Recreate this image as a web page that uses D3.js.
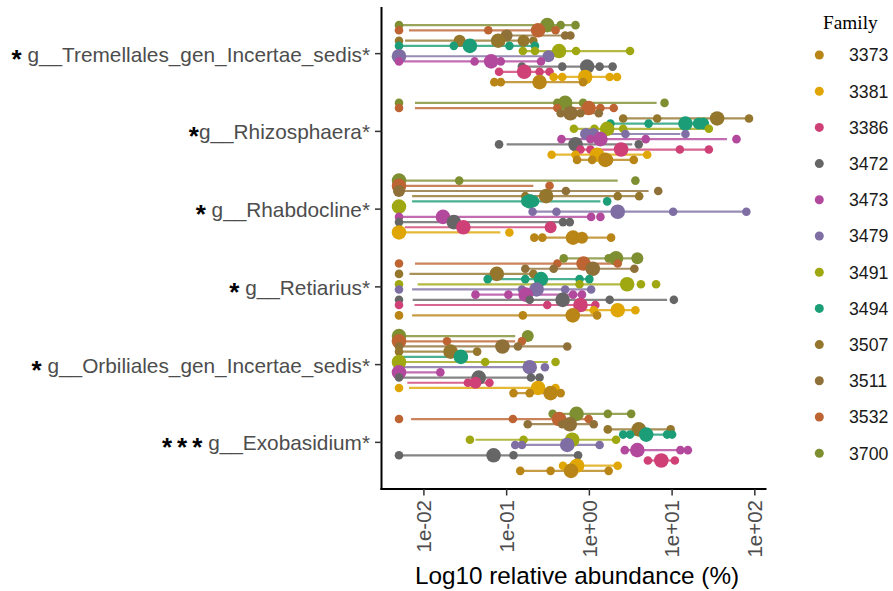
<!DOCTYPE html>
<html>
<head>
<meta charset="utf-8">
<script src="https://cdn.jsdelivr.net/npm/d3@7"></script>
<style>
  body { margin: 0; background: #fff; }
  text { white-space: pre; }
</style>
</head>
<body>
<svg id="chart" width="893" height="591"></svg>
<script>
// Families (legend order) and their colours (Dark2 ramp, 12 steps)
const families = ["3373", "3381", "3386", "3472", "3473", "3479", "3491", "3494", "3507", "3511", "3532", "3700"];
const familyColors = ["#B88516", "#E0A605", "#CF4076", "#666666", "#B3499D", "#7E6EA3",
                      "#A0A811", "#1B9E77", "#94762D", "#8F7038", "#BE6432", "#7E8F32"];

// Genera, top to bottom, with their significance marks
const genera = ["g__Tremellales_gen_Incertae_sedis", "g__Rhizosphaera", "g__Rhabdocline",
                "g__Retiarius", "g__Orbiliales_gen_Incertae_sedis", "g__Exobasidium"];
const significance = ["*", "*", "*", "*", "*", "***"];
const labelGap = [" ", "", " ", " ", " ", " "];

const xTicks = [0.01, 0.1, 1, 10, 100];
const xTickLabels = ["1e-02", "1e-01", "1e+00", "1e+01", "1e+02"];

// Per genus rows: [family, range low, range high, [[relative abundance %, weight], ...]]
const tremellales = [
  ["3700", 0.005, 0.68, [[0.005, 1], [0.31, 3], [0.45, 1], [0.68, 1]]],
  ["3532", 0.0066, 0.39, [[0.005, 1], [0.06, 1], [0.24, 3], [0.39, 1]]],
  ["3511", 0.10, 0.59, [[0.10, 2], [0.51, 1], [0.59, 1]]],
  ["3507", 0.0059, 0.21, [[0.005, 1], [0.027, 2], [0.079, 3], [0.16, 2], [0.21, 1]]],
  ["3494", 0.005, 0.22, [[0.005, 1], [0.023, 1], [0.036, 3], [0.108, 1], [0.22, 1]]],
  ["3491", 0.157, 3.1, [[0.157, 1], [0.22, 1], [0.43, 3], [0.69, 1], [3.1, 1]]],
  ["3479", 0.005, 0.34, [[0.005, 3], [0.32, 2]]],
  ["3473", 0.005, 0.26, [[0.005, 1], [0.041, 1], [0.065, 3], [0.085, 1], [0.26, 1]]],
  ["3472", 0.153, 1.91, [[0.153, 1], [0.47, 1], [0.94, 3], [1.33, 1], [1.91, 1]]],
  ["3386", 0.081, 0.33, [[0.081, 1], [0.163, 3], [0.25, 1], [0.33, 1]]],
  ["3381", 0.37, 2.16, [[0.37, 1], [0.47, 1], [0.89, 3], [1.76, 1], [2.16, 1]]],
  ["3373", 0.071, 0.84, [[0.071, 1], [0.085, 1], [0.25, 3], [0.84, 1]]]
];
const rhizosphaera = [
  ["3700", 0.0078, 6.5, [[0.005, 1], [0.41, 1], [0.51, 3], [0.84, 1], [8.1, 1]]],
  ["3532", 0.0078, 2.06, [[0.005, 1], [0.41, 1], [0.98, 3], [1.36, 1], [1.97, 1]]],
  ["3511", 0.45, 1.30, [[0.45, 1], [0.59, 3], [0.78, 1], [1.30, 1]]],
  ["3507", 2.56, 85, [[2.56, 1], [6.6, 1], [35, 3], [85, 1]]],
  ["3494", 1.8, 23.7, [[1.8, 1], [5.2, 1], [14.5, 3], [21, 2], [23.7, 2]]],
  ["3491", 0.65, 27.8, [[0.65, 1], [1.15, 1], [1.64, 3], [2.56, 1], [27.8, 1]]],
  ["3479", 0.91, 12.6, [[0.91, 2], [1.12, 2], [2.73, 1], [14.5, 1]]],
  ["3473", 0.46, 46, [[0.46, 1], [1.03, 1], [1.36, 3], [4.8, 1], [60, 1]]],
  ["3472", 0.10, 3.3, [[0.081, 1], [0.68, 3], [3.95, 1]]],
  ["3386", 0.78, 27.8, [[0.78, 1], [1.03, 1], [2.42, 3], [12.4, 1], [27.8, 1]]],
  ["3381", 0.35, 5.0, [[0.35, 1], [0.68, 1], [1.24, 3], [5.0, 1]]],
  ["3373", 0.71, 3.44, [[0.71, 1], [1.08, 1], [1.56, 3], [1.65, 2], [3.44, 1]]]
];
const rhabdocline = [
  ["3700", 0.005, 2.2, [[0.005, 3], [0.0267, 1], [3.6, 1]]],
  ["3532", 0.005, 0.21, [[0.005, 3], [0.33, 1]]],
  ["3511", 0.005, 5.2, [[0.005, 2], [0.52, 1], [6.8, 1]]],
  ["3507", 0.0072, 3.9, [[0.168, 1], [0.30, 3], [2.2, 1], [4.0, 1]]],
  ["3494", 0.0072, 1.36, [[0.176, 2], [0.19, 3], [0.21, 2], [1.64, 1]]],
  ["3491", null, null, [[0.005, 3]]],
  ["3479", 0.206, 79, [[0.206, 1], [0.40, 1], [2.2, 3], [10.3, 1], [79, 1]]],
  ["3473", 0.005, 1.05, [[0.005, 1], [0.017, 3], [1.05, 1], [1.36, 1]]],
  ["3472", 0.005, 0.54, [[0.005, 1], [0.023, 3], [0.48, 1], [0.58, 1]]],
  ["3386", 0.0059, 0.34, [[0.030, 3], [0.34, 2]]],
  ["3381", 0.005, 0.084, [[0.005, 3], [0.108, 1]]],
  ["3373", 0.216, 1.83, [[0.216, 1], [0.27, 1], [0.635, 3], [0.815, 2], [1.83, 1]]]
];
const retiarius = [
  ["3700", 0.49, 3.8, [[0.49, 1], [1.71, 1], [2.1, 3], [3.8, 2]]],
  ["3532", 0.0078, 2.37, [[0.005, 1], [0.41, 1], [0.85, 3], [2.2, 1]]],
  ["3511", 0.168, 3.5, [[0.168, 1], [0.37, 1], [1.1, 3], [3.5, 1]]],
  ["3507", 0.0067, 0.21, [[0.005, 1], [0.076, 3], [0.21, 1]]],
  ["3494", 0.059, 1.0, [[0.059, 1], [0.168, 1], [0.26, 3], [0.76, 1], [1.0, 1]]],
  ["3491", 0.0084, 2.73, [[0.005, 1], [0.76, 1], [2.86, 3], [4.2, 1], [6.4, 1]]],
  ["3479", 0.0072, 1.0, [[0.005, 1], [0.153, 1], [0.23, 3], [0.51, 1], [1.05, 1]]],
  ["3473", 0.042, 0.815, [[0.042, 1], [0.105, 1], [0.17, 3], [0.635, 1], [0.815, 1]]],
  ["3472", 0.0073, 8.7, [[0.005, 1], [0.19, 1], [0.475, 3], [1.76, 1], [10.5, 1]]],
  ["3386", 0.0077, 1.18, [[0.005, 1], [0.31, 1], [0.78, 3], [1.18, 1]]],
  ["3381", 0.78, 3.6, [[1.13, 1], [2.2, 3], [3.6, 1]]],
  ["3373", 0.0072, 1.24, [[0.005, 1], [0.157, 1], [0.63, 3], [1.24, 1]]]
];
const orbiliales = [
  ["3700", 0.005, 0.127, [[0.005, 3], [0.18, 2]]],
  ["3532", 0.005, 0.127, [[0.005, 3], [0.019, 1], [0.153, 1]]],
  ["3511", 0.005, 0.54, [[0.005, 1], [0.089, 3], [0.137, 1], [0.54, 1]]],
  ["3507", 0.005, 0.044, [[0.005, 1], [0.021, 3], [0.044, 1]]],
  ["3494", 0.005, 0.028, [[0.028, 3]]],
  ["3491", 0.005, 0.316, [[0.005, 3], [0.055, 1], [0.39, 1]]],
  ["3479", 0.005, 0.19, [[0.19, 3], [0.29, 1]]],
  ["3473", 0.005, 0.0158, [[0.005, 3], [0.0158, 1]]],
  ["3472", 0.005, 0.25, [[0.005, 1], [0.046, 3], [0.197, 1], [0.25, 1]]],
  ["3386", 0.0063, 0.062, [[0.034, 1], [0.042, 2], [0.062, 1]]],
  ["3381", 0.0066, 0.24, [[0.005, 1], [0.24, 3], [0.39, 1]]],
  ["3373", 0.121, 0.45, [[0.121, 1], [0.19, 1], [0.34, 3], [0.45, 1]]]
];
const exobasidium = [
  ["3700", 0.36, 3.2, [[0.36, 1], [0.70, 3], [1.67, 1], [3.2, 1]]],
  ["3532", 0.007, 0.98, [[0.005, 1], [0.119, 1], [0.43, 3], [0.98, 1]]],
  ["3511", 0.18, 1.13, [[0.18, 1], [0.47, 1], [0.58, 3], [1.13, 1]]],
  ["3507", 1.67, 9.6, [[1.67, 1], [3.95, 3], [4.1, 2], [9.6, 1]]],
  ["3494", 2.56, 10.0, [[2.56, 1], [3.1, 1], [4.86, 3], [8.7, 1], [10.0, 1]]],
  ["3491", 0.042, 2.1, [[0.036, 1], [0.16, 1], [0.62, 3], [2.1, 1]]],
  ["3479", 0.127, 1.33, [[0.127, 1], [0.153, 1], [0.54, 3], [1.33, 1]]],
  ["3473", 2.68, 15.5, [[2.68, 1], [3.8, 3], [12.6, 1], [15.5, 1]]],
  ["3472", 0.005, 0.73, [[0.005, 1], [0.0695, 3], [0.121, 1], [0.73, 1]]],
  ["3386", 5.1, 10.8, [[5.1, 1], [7.4, 3], [10.8, 1]]],
  ["3381", 0.48, 2.2, [[0.48, 1], [0.635, 1], [0.71, 3], [2.2, 1]]],
  ["3373", 0.146, 1.71, [[0.146, 1], [0.34, 1], [0.60, 3], [1.71, 1]]]
];
const generaRows = [tremellales, rhizosphaera, rhabdocline, retiarius, orbiliales, exobasidium];

// ---- layout ----
const panel = { left: 381.5, right: 766.5, top: 7, bottom: 489 };
const svg = d3.select("#chart");

// flatten rows
const rows = [];
genera.forEach((g, gi) => {
  generaRows[gi].forEach(([family, lo, hi, pts]) => rows.push({ genus: g, family, lo, hi, pts }));
});
const allValues = rows.flatMap(r => [r.lo, r.hi, ...r.pts.map(p => p[0])]).filter(v => v != null);

// log x scale with 5% expansion on each side
const [lmin, lmax] = d3.extent(allValues, v => Math.log10(v));
const pad = (lmax - lmin) * 0.05;
const x = d3.scaleLog()
  .domain([Math.pow(10, lmin - pad), Math.pow(10, lmax + pad)])
  .range([panel.left, panel.right]);

const y = d3.scalePoint().domain(genera).range([panel.top, panel.bottom]).padding(0.6);
const color = d3.scaleOrdinal().domain(families).range(familyColors);
const radius = d3.scaleSqrt().domain([1, 3]).range([4.3, 7.3]);

// dodge families within each genus (dodge width 0.8 of a step)
const dodge = d3.scalePoint().domain(families.slice().reverse())
  .range([-0.4 * y.step() * 11 / 12, 0.4 * y.step() * 11 / 12]);
const rowY = r => y(r.genus) + dodge(r.family);

// ranges
svg.append("g").selectAll("line")
  .data(rows.filter(r => r.lo != null))
  .join("line")
  .attr("x1", r => x(r.lo)).attr("x2", r => x(r.hi))
  .attr("y1", rowY).attr("y2", rowY)
  .attr("stroke", r => color(r.family))
  .attr("stroke-width", 2.2)
  .attr("stroke-opacity", 0.8);

// points
const pts = rows.flatMap(r => r.pts.map(([v, w]) => ({ family: r.family, genus: r.genus, v, w })));
svg.append("g").selectAll("circle")
  .data(pts)
  .join("circle")
  .attr("cx", d => x(d.v))
  .attr("cy", d => rowY(d))
  .attr("r", d => radius(d.w))
  .attr("fill", d => color(d.family));

// axes
const axisColor = "#000";
svg.append("line").attr("x1", panel.left).attr("x2", panel.left)
  .attr("y1", panel.top).attr("y2", panel.bottom + 1)
  .attr("stroke", axisColor).attr("stroke-width", 2);
svg.append("line").attr("x1", panel.left - 1).attr("x2", panel.right)
  .attr("y1", panel.bottom).attr("y2", panel.bottom)
  .attr("stroke", axisColor).attr("stroke-width", 2);

// y ticks and labels
const yAxis = svg.append("g");
genera.forEach((g, i) => {
  const yy = y(g);
  yAxis.append("line").attr("x1", panel.left - 6.5).attr("x2", panel.left)
    .attr("y1", yy).attr("y2", yy).attr("stroke", "#333").attr("stroke-width", 1.5);
  const t = yAxis.append("text")
    .attr("x", 370).attr("y", yy + 8)
    .attr("text-anchor", "end")
    .attr("font-family", "Liberation Sans, Arial, sans-serif")
    .attr("font-size", 20.8);
  const multi = significance[i].length > 1;
  t.append("tspan").attr("fill", "#000").attr("font-weight", "bold")
    .attr("font-size", 26).attr("dy", 6)
    .attr("letter-spacing", multi ? 5 : 0)
    .text(significance[i]);
  t.append("tspan").attr("fill", "#4D4D4D").attr("dy", -6)
    .attr("dx", multi ? -5 : 0)
    .text(labelGap[i] + g + "*");
});

// x ticks and labels
const xAxis = svg.append("g");
xTicks.forEach((v, i) => {
  const xx = x(v);
  xAxis.append("line").attr("x1", xx).attr("x2", xx)
    .attr("y1", panel.bottom).attr("y2", panel.bottom + 6.5)
    .attr("stroke", "#333").attr("stroke-width", 1.5);
  xAxis.append("text")
    .attr("transform", `translate(${xx},500) rotate(-90)`)
    .attr("text-anchor", "end")
    .attr("dy", "0.35em")
    .attr("font-family", "Liberation Sans, Arial, sans-serif")
    .attr("font-size", 20.5)
    .attr("fill", "#4D4D4D")
    .text(xTickLabels[i]);
});

svg.append("text")
  .attr("x", (panel.left + panel.right) / 2 + 3).attr("y", 584)
  .attr("text-anchor", "middle")
  .attr("font-family", "Liberation Sans, Arial, sans-serif")
  .attr("font-size", 24.3)
  .attr("fill", "#000")
  .text("Log10 relative abundance (%)");

// legend
const legend = svg.append("g");
legend.append("text").attr("x", 823).attr("y", 29)
  .attr("font-family", "Liberation Serif, Times New Roman, serif")
  .attr("font-size", 19.3).attr("fill", "#000").text("Family");
families.forEach((f, i) => {
  const cy = 55 + i * 36.2;
  legend.append("circle").attr("cx", 819.3).attr("cy", cy).attr("r", 4.5).attr("fill", color(f));
  legend.append("text").attr("x", 849).attr("y", cy + 6.3)
    .attr("font-family", "Liberation Sans, Arial, sans-serif")
    .attr("font-size", 17.7).attr("fill", "#1a1a1a").text(f);
});
</script>
</body>
</html>
